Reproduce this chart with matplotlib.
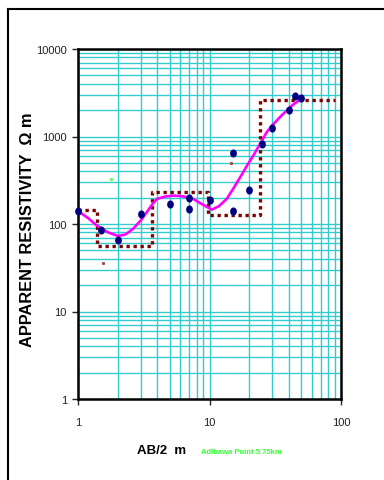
import matplotlib.pyplot as plt
from matplotlib.lines import Line2D
from matplotlib.path import Path
from matplotlib.ticker import LogLocator, NullFormatter
import numpy as np

plt.rcParams['font.family'] = ['Liberation Sans', 'DejaVu Sans']

# field data: AB/2 (m) and apparent resistivity (ohm m)
ab2 = [1.0, 1.5, 2.0, 3.0, 5.0, 7.0, 7.0, 10.0, 15.0, 15.0, 20.0, 25.0, 30.0, 40.0, 45.0, 50.0]
rho = [142, 86, 65, 130, 168, 197, 150, 190, 648, 141, 247, 820, 1262, 2025, 2880, 2733]

# calculated model curve
curve_x = [1.0, 1.2, 1.39, 1.7, 2.01, 2.3, 2.62, 3.0, 3.33, 3.65, 3.97, 4.6, 5.3,
           6.3, 7.53, 8.8, 10.4, 11.8, 13.5, 15.2, 17.1, 19.2, 21.5, 24.2, 27.2,
           29.7, 32.4, 35.3, 38.6, 43.0, 48.8]
curve_y = [141, 116, 96, 80, 73, 76, 88, 110, 136, 166, 193, 206, 211,
           207, 193, 168, 146, 160, 193, 255, 342, 460, 603, 820, 1117,
           1320, 1517, 1740, 1972, 2300, 2637]

# layered model (step curve)
layer_x = [1.0, 1.4, 1.4, 3.64, 3.64, 9.8, 9.8, 24.3, 24.3, 90.0]
layer_y = [145, 145, 56.5, 56.5, 230, 230, 127, 127, 2613, 2613]

# stray small marks in the original
mark_green = ([1.77], [327])
mark_brown = ([1.54, 14.6], [35.8, 494])

# slightly tall ellipse marker
t = np.linspace(0, 2 * np.pi, 40)
ellipse = Path(np.column_stack([0.8 * np.cos(t), np.sin(t)]), closed=True)

fig = plt.figure(figsize=(3.84, 4.81), dpi=100)
ax = fig.add_axes([78 / 384, 1 - 400 / 481, 263 / 384, 350 / 481])

ax.set_xscale('log')
ax.set_yscale('log')
ax.set_xlim(1, 100)
ax.set_ylim(1, 10000)

grid_col = '#33CCCC'
ax.xaxis.set_minor_locator(LogLocator(base=10, subs=range(2, 10)))
ax.yaxis.set_minor_locator(LogLocator(base=10, subs=range(2, 10)))
ax.xaxis.set_minor_formatter(NullFormatter())
ax.yaxis.set_minor_formatter(NullFormatter())
ax.grid(True, which='both', color=grid_col, lw=1.0)
ax.set_axisbelow(True)

ax.set_xticks([1, 10, 100])
ax.set_xticklabels(['1', '10', '100'])
ax.set_yticks([1, 10, 100, 1000, 10000])
ax.set_yticklabels(['1', '10', '100', '1000', '10000'])
ax.tick_params(which='major', length=4, width=1, direction='out', labelsize=8,
               colors='#222222', pad=4)
ax.tick_params(which='minor', length=0)
ax.tick_params(axis='x', pad=9)
for s in ax.spines.values():
    s.set_linewidth(1.8)
    s.set_color('black')

ax.plot(layer_x, layer_y, color='#800000', lw=2.4, ls=(0, (1, 1.1)), zorder=3)
ax.plot(curve_x, curve_y, color='#FF00FF', lw=1.9, zorder=4, solid_capstyle='round')
ax.plot(ab2, rho, ls='none', marker=ellipse, color='#000080', markersize=4.8,
        zorder=5, clip_on=False)
ax.plot(*mark_green, 's', color='#66FF66', markersize=1.2, zorder=5)
ax.plot(*mark_brown, 's', color='#A05050', markersize=1.2, zorder=5)

fig.text(28 / 384, 1 - 230 / 481, 'APPARENT RESISTIVITY  \u03a9 m', rotation=90,
         ha='center', va='center', fontsize=11.8, fontweight='bold')
fig.text(162 / 384, 1 - 451 / 481, 'AB/2  m', ha='center', va='center',
         fontsize=9.5, fontweight='bold')
fig.text(201 / 384, 1 - 453 / 481, 'Adibawa Point 5.75km', ha='left', va='center',
         fontsize=5.5, fontweight='bold', color='#33FF33')

# outer frame (top and left edges)
fig.add_artist(Line2D([8 / 384, 8 / 384], [0, 1 - 10 / 481], color='black', lw=1.5,
                      transform=fig.transFigure))
fig.add_artist(Line2D([8 / 384, 1], [1 - 10 / 481, 1 - 10 / 481], color='black', lw=1.5,
                      transform=fig.transFigure))

fig.savefig('out.png', dpi=100)
